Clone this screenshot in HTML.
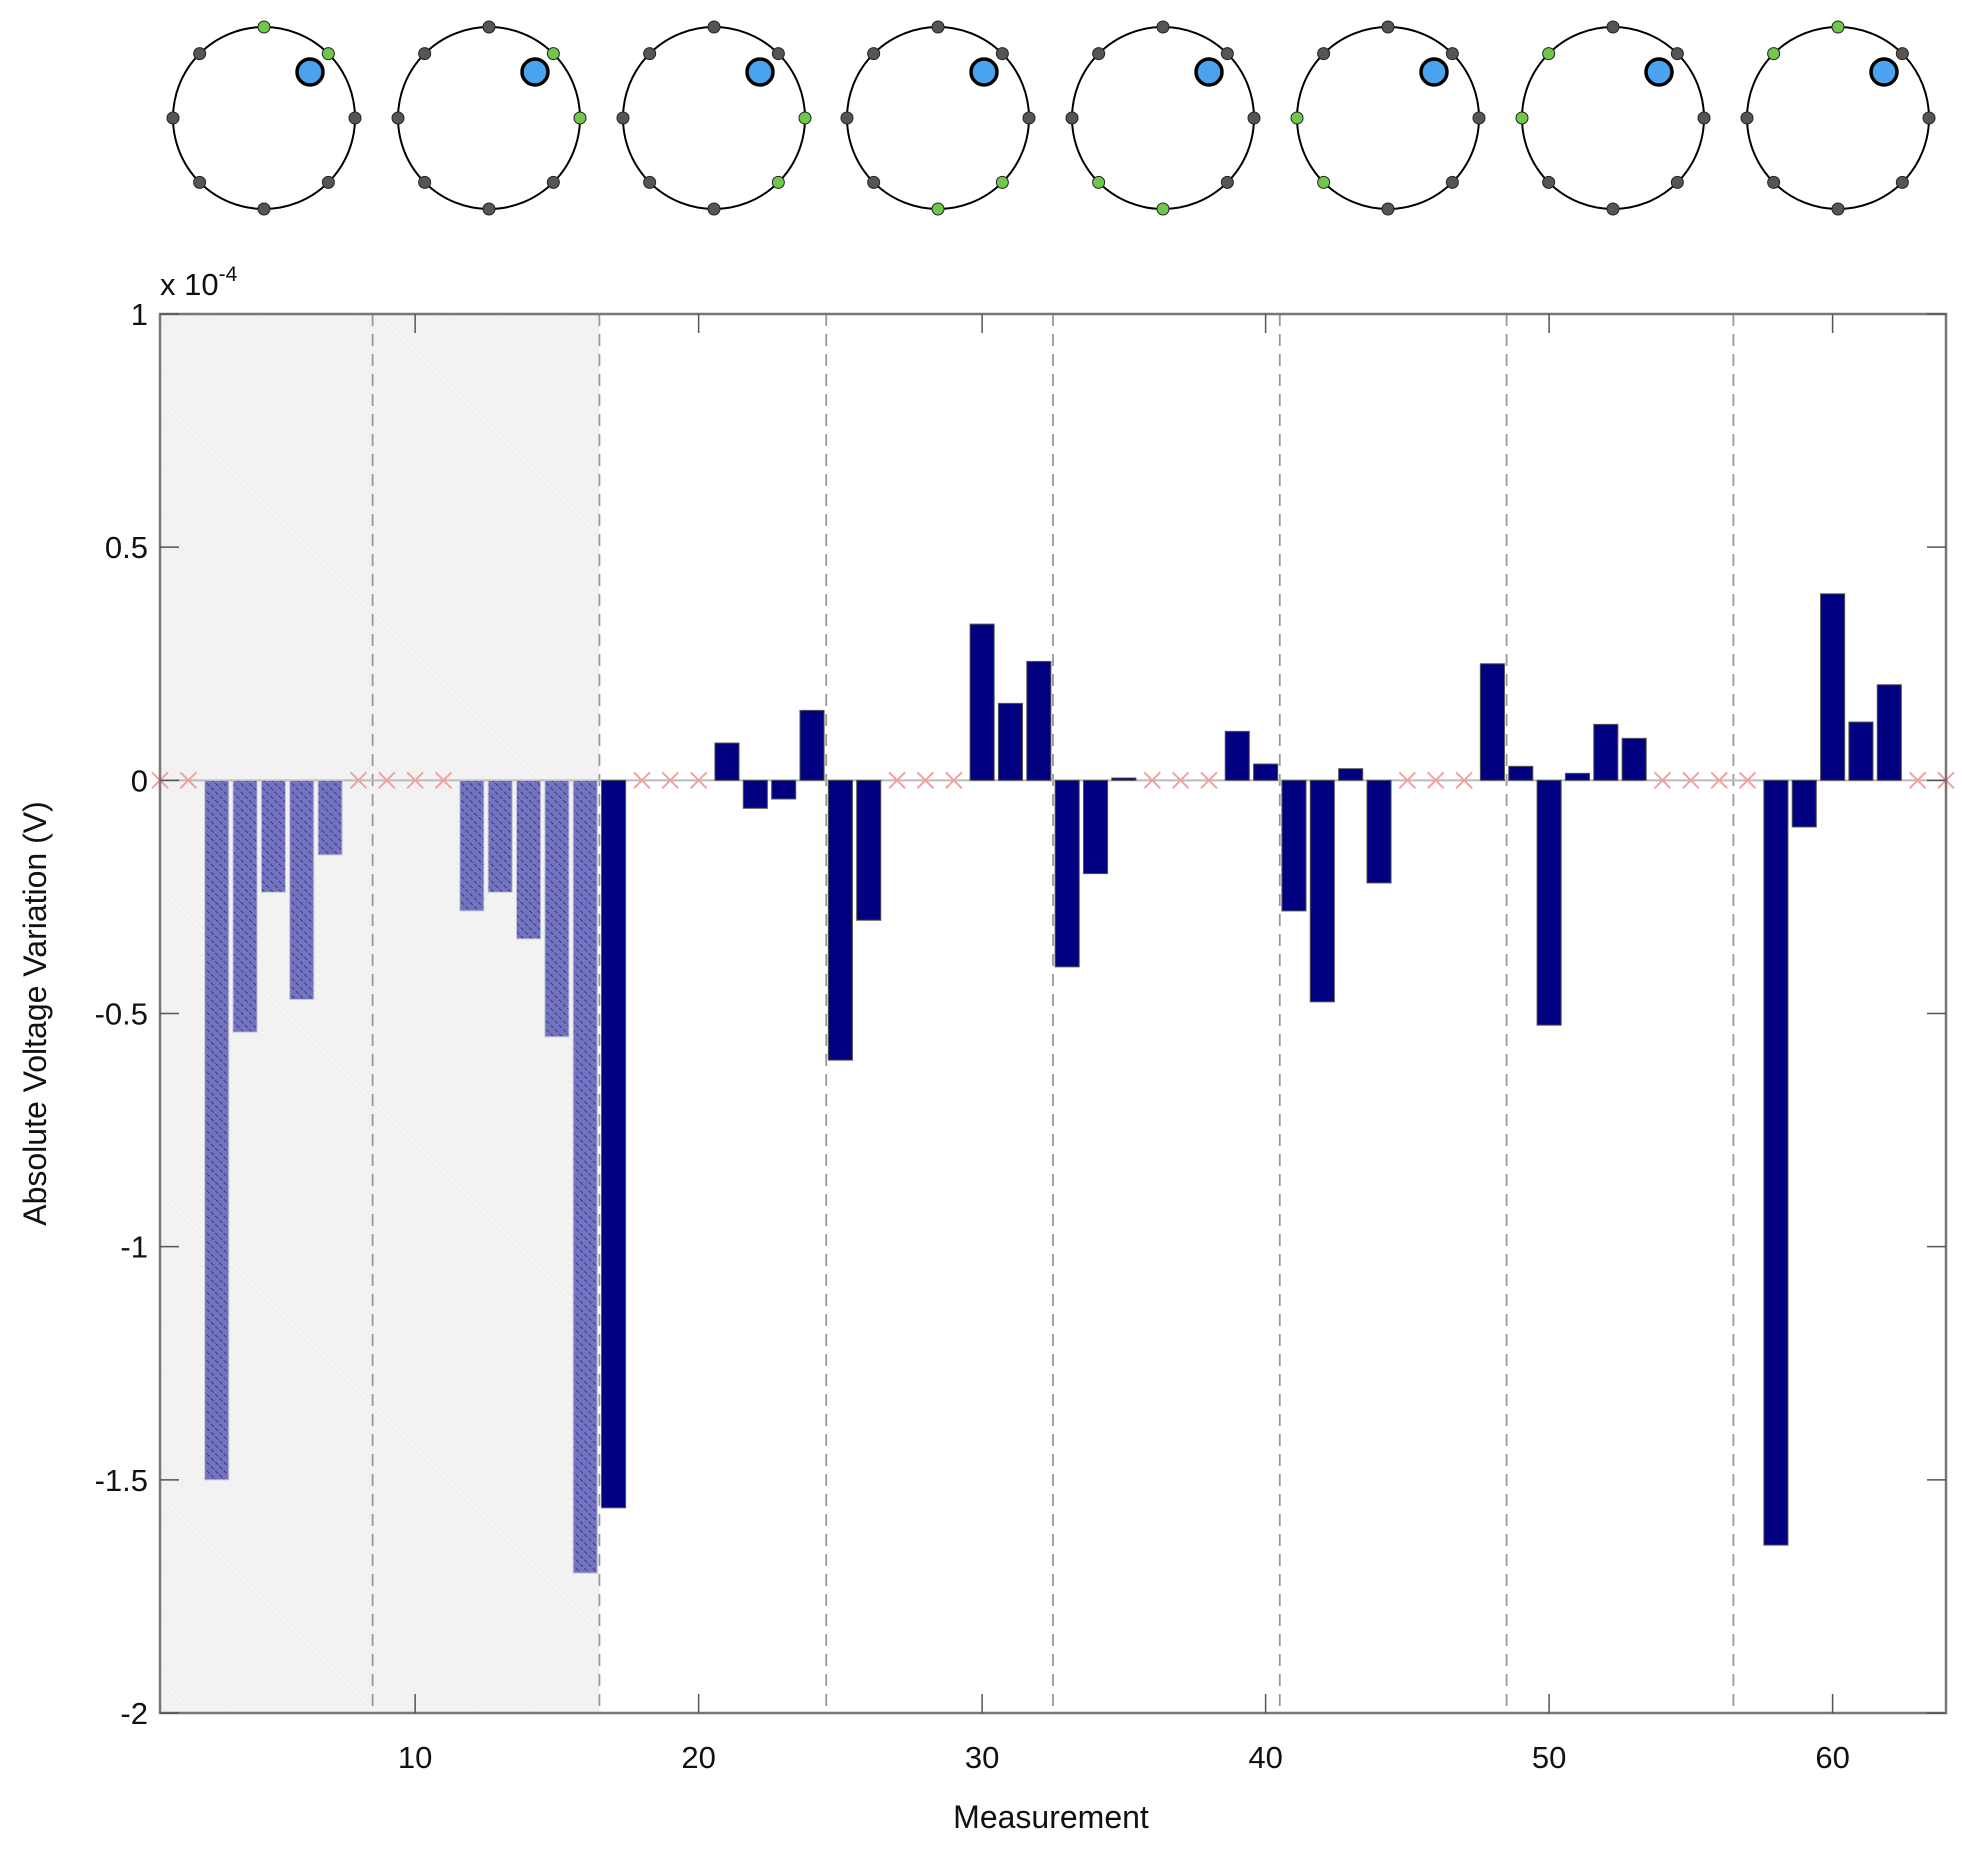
<!DOCTYPE html>
<html><head><meta charset="utf-8"><style>
html,body{margin:0;padding:0;background:#fff;}
svg{display:block;font-family:"Liberation Sans",sans-serif;}
</style></head><body>
<svg id="chart" width="1962" height="1850" viewBox="0 0 1962 1850">
<defs>
<pattern id="hatch" width="6" height="6" patternUnits="userSpaceOnUse" patternTransform="rotate(-45)">
<rect width="6" height="6" fill="#7474bc"/><line x1="0" y1="0" x2="0" y2="6" stroke="#1a1a9a" stroke-width="1.4" stroke-dasharray="2 2"/>
</pattern>
<pattern id="bghatch" width="5" height="5" patternUnits="userSpaceOnUse" patternTransform="rotate(-45)">
<rect width="5" height="5" fill="#f1f1f1"/><line x1="0" y1="0" x2="0" y2="5" stroke="#fafafa" stroke-width="1"/>
</pattern>
</defs>
<g id="electrodes"></g>
<g id="plot"></g>
</svg>
<script>
const measurements = [];
for (let i = 1; i <= 64; i++) measurements.push(i);
// null = excluded measurement (marked with x)
const values = [null,null,-1.5,-0.54,-0.24,-0.47,-0.16,null,null,null,null,-0.28,-0.24,-0.34,-0.55,-1.7,
-1.56,null,null,null,0.08,-0.06,-0.04,0.15,-0.6,-0.3,null,null,null,0.335,0.165,0.255,-0.4,-0.2,0.005,
null,null,null,0.105,0.035,-0.28,-0.475,0.025,-0.22,null,null,null,0.25,0.03,-0.525,0.015,0.12,0.09,
null,null,null,null,-1.64,-0.1,0.4,0.125,0.205,null,null];
const shadedUntil = 16.5;
const dividers = [8.5,16.5,24.5,32.5,40.5,48.5,56.5];
const xTicks = [10,20,30,40,50,60];
const yTicks = [1,0.5,0,-0.5,-1,-1.5,-2];
const yTickLabels = ["1","0.5","0","-0.5","-1","-1.5","-2"];
const greenPairs = [[90,45],[45,0],[0,-45],[-45,-90],[-90,-135],[-135,180],[180,135],[135,90]];

const NS="http://www.w3.org/2000/svg";
const L=160,R=1946,T=314,B=1713,XMIN=1,XMAX=64,YMIN=-2,YMAX=1;
const xs=v=>L+(v-XMIN)/(XMAX-XMIN)*(R-L);
const ys=v=>B-(v-YMIN)/(YMAX-YMIN)*(B-T);
function mk(tag,attrs,parent){const e=document.createElementNS(NS,tag);for(const k in attrs)e.setAttribute(k,attrs[k]);parent.appendChild(e);return e;}
const plot=document.getElementById('plot');
const elec=document.getElementById('electrodes');

// shaded region
let sh=mk('rect',{x:L,y:T,width:xs(shadedUntil)-L,height:B-T,fill:'url(#bghatch)'},plot);


// dividers
dividers.forEach(d=>{
 const l=mk('line',{x1:xs(d),x2:xs(d),y1:T,y2:B,stroke:'#999',"stroke-width":1.8,"stroke-dasharray":"12 8"},plot);
 
 
});
// zero line
mk('line',{x1:L,x2:R,y1:ys(0),y2:ys(0),stroke:'#bbb',"stroke-width":2},plot);
// bars
const bw=0.85*(xs(2)-xs(1));
measurements.forEach((m,i)=>{
 const v=values[i];
 if(v===null){
  const cx=xs(m),cy=ys(0),s=8;
  const g=mk('g',{stroke:'#f4a0a0',"stroke-width":2},plot);
  
  
  mk('line',{x1:cx-s,y1:cy-s,x2:cx+s,y2:cy+s},g);mk('line',{x1:cx-s,y1:cy+s,x2:cx+s,y2:cy-s},g);
  return;
 }
 const y0=ys(Math.max(v,0)),y1=ys(Math.min(v,0));
 const r=mk('rect',{x:xs(m)-bw/2,y:y0,width:bw,height:Math.max(y1-y0,1),fill:m<=shadedUntil?'url(#hatch)':'#000080',stroke:m<=shadedUntil?'#c8c8d8':'#555',"stroke-width":1},plot);
 
 
});
// axes frame
const fr=mk('rect',{x:L,y:T,width:R-L,height:B-T,fill:'none',stroke:'#777',"stroke-width":2.5},plot);


xTicks.forEach(t=>{
 const x=xs(t);
 mk('line',{x1:x,x2:x,y1:B,y2:B-19,stroke:'#555',"stroke-width":1.5},plot);
 mk('line',{x1:x,x2:x,y1:T,y2:T+19,stroke:'#555',"stroke-width":1.5},plot);
 const tx=mk('text',{x:x,y:B+55,"text-anchor":"middle","font-size":31,fill:'#111'},plot);
 tx.textContent=t;
 
 
});
yTicks.forEach((t,i)=>{
 const y=ys(t);
 mk('line',{x1:L,x2:L+19,y1:y,y2:y,stroke:'#555',"stroke-width":1.5},plot);
 mk('line',{x1:R,x2:R-19,y1:y,y2:y,stroke:'#555',"stroke-width":1.5},plot);
 const tx=mk('text',{x:L-12,y:y+11,"text-anchor":"end","font-size":31,fill:'#111'},plot);
 tx.textContent=yTickLabels[i];
 
 
});
let ex=mk('text',{x:160,y:295,"font-size":31,fill:'#111'},plot);
ex.innerHTML='x 10<tspan dy="-14" font-size="21">-4</tspan>';


let xt=mk('text',{x:1051,y:1828,"text-anchor":"middle","font-size":32,fill:'#111'},plot);
xt.textContent='Measurement';


let yt=mk('text',{x:0,y:0,"text-anchor":"middle","font-size":32,fill:'#111',transform:`translate(46,${(T+B)/2}) rotate(-90)`},plot);
yt.textContent='Absolute Voltage Variation (V)';



// electrode diagrams
const centers=[264,489,714,938,1163,1388,1613,1838];
centers.forEach((cx,k)=>{
 const cy=118,rad=91;
 const g=mk('g',{},elec);
 
 
 mk('circle',{cx,cy,r:rad,fill:'none',stroke:'#000',"stroke-width":2},g);
 mk('circle',{cx:cx+46,cy:cy-46,r:13,fill:'#4aa3ef',stroke:'#000',"stroke-width":3.5},g);
 [90,45,0,-45,-90,-135,180,135].forEach(a=>{
  const rr=a*Math.PI/180;
  const green=greenPairs[k].includes(a);
  const d=mk('circle',{cx:cx+rad*Math.cos(rr),cy:cy-rad*Math.sin(rr),r:6,fill:green?'#6fc84a':'#555',stroke:'#222',"stroke-width":1},g);
  
  
 });
});
</script>
</body></html>
